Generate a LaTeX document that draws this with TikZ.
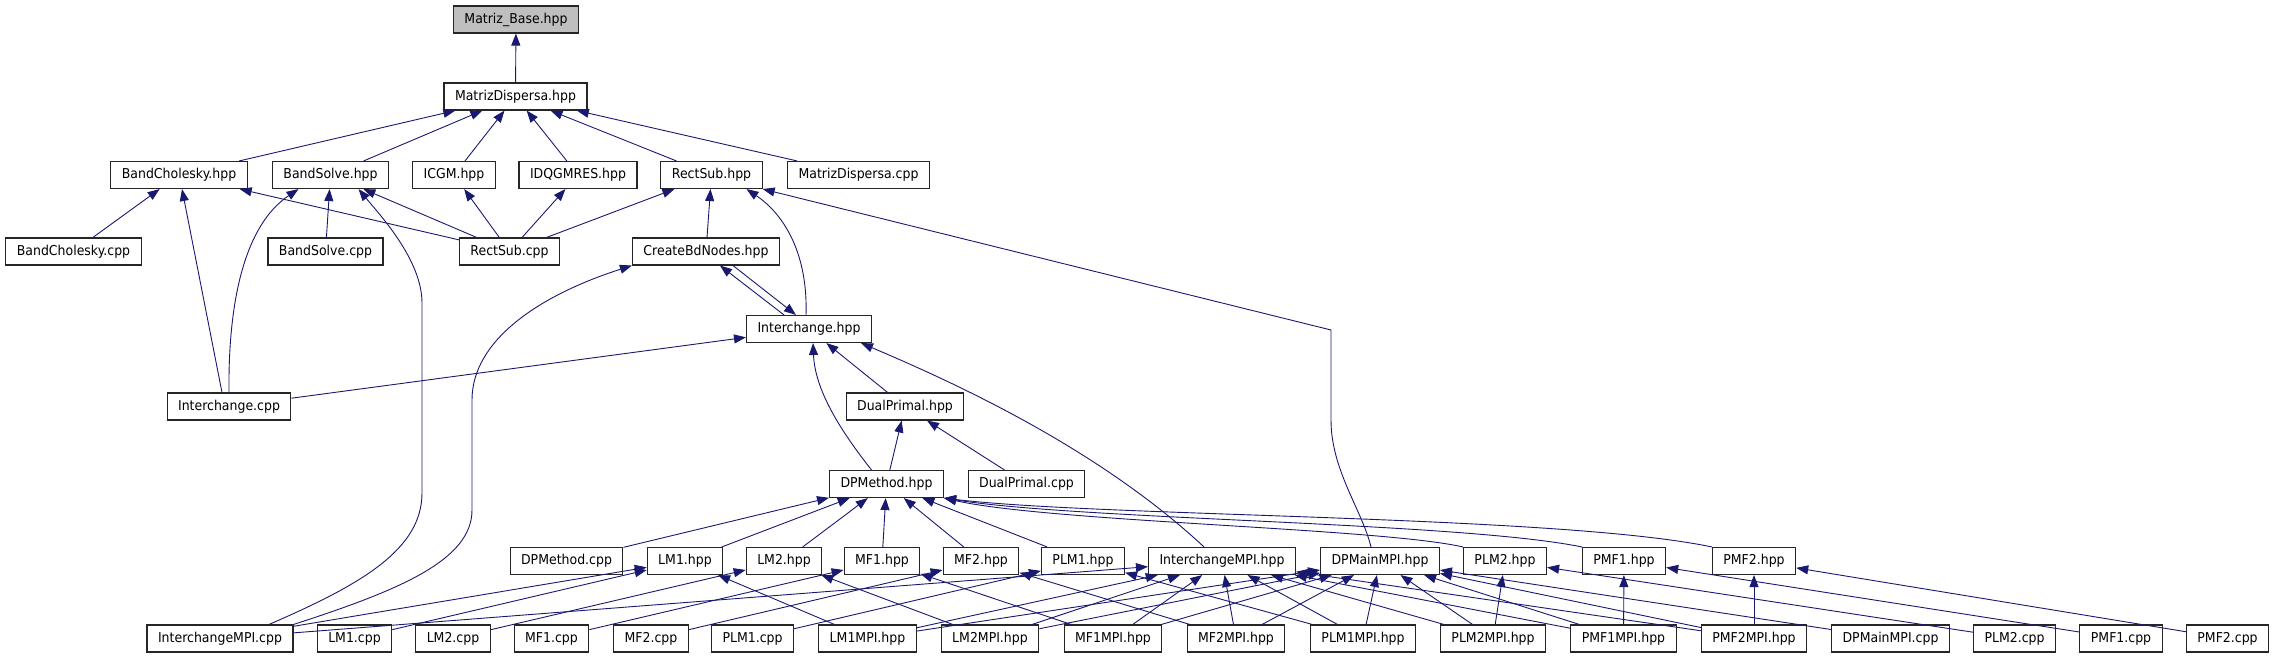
\documentclass[tikz,border=0pt]{standalone}
\usepackage{fontspec}
\setmainfont{DejaVu Sans}[FakeStretch=0.92]
\usetikzlibrary{arrows.meta}
\definecolor{dxblue}{HTML}{191970}
\definecolor{dxgray}{HTML}{BFBFBF}

\begin{document}
\begin{tikzpicture}[x=1pt,y=-1pt,
    block/.style={rectangle,draw=black!85,line width=1.1pt,fill=white,minimum height=27pt,inner xsep=11pt,inner ysep=0pt,font=\fontsize{13.6}{15}\selectfont},
    arrow/.style={->,>={Triangle[length=12pt,width=9pt]},draw=dxblue,line width=0.9pt}]
    \useasboundingbox (0,0) rectangle (2275,659);
    \node[block,fill=dxgray] (mbase) at (516,19.5) {Matriz\_Base.hpp};
    \node[block] (mdhpp) at (515.5,96.5) {MatrizDispersa.hpp};
    \node[block] (bchol) at (179,175) {BandCholesky.hpp};
    \node[block] (bsolve) at (330.5,175) {BandSolve.hpp};
    \node[block] (icgm) at (454,175) {ICGM.hpp};
    \node[block] (idq) at (578,175) {IDQGMRES.hpp};
    \node[block] (rsub) at (711.5,175) {RectSub.hpp};
    \node[block] (mdcpp) at (858.5,175) {MatrizDispersa.cpp};
    \node[block] (bcholcpp) at (73.5,251.5) {BandCholesky.cpp};
    \node[block] (bsolvecpp) at (325.5,251.5) {BandSolve.cpp};
    \node[block] (rsubcpp) at (509.5,251.5) {RectSub.cpp};
    \node[block] (cbdn) at (706,251.5) {CreateBdNodes.hpp};
    \node[block] (ichpp) at (809,329) {Interchange.hpp};
    \node[block] (iccpp) at (229,406.5) {Interchange.cpp};
    \node[block] (dphpp) at (905,406.5) {DualPrimal.hpp};
    \node[block] (dpmhpp) at (886.5,484) {DPMethod.hpp};
    \node[block] (dpcpp) at (1026.5,484) {DualPrimal.cpp};
    \node[block] (dpmcpp) at (566.5,561) {DPMethod.cpp};
    \node[block] (lm1h) at (685,561) {LM1.hpp};
    \node[block] (lm2h) at (784,561) {LM2.hpp};
    \node[block] (mf1h) at (882,561) {MF1.hpp};
    \node[block] (mf2h) at (981,561) {MF2.hpp};
    \node[block] (plm1h) at (1083,561) {PLM1.hpp};
    \node[block] (icmpih) at (1222,561) {InterchangeMPI.hpp};
    \node[block] (dpmmpih) at (1380,561) {DPMainMPI.hpp};
    \node[block] (plm2h) at (1505,561) {PLM2.hpp};
    \node[block] (pmf1h) at (1624,561) {PMF1.hpp};
    \node[block] (pmf2h) at (1754,561) {PMF2.hpp};
    \node[block] (icmpicpp) at (220,638.5) {InterchangeMPI.cpp};
    \node[block] (lm1c) at (354.5,638.5) {LM1.cpp};
    \node[block] (lm2c) at (453,638.5) {LM2.cpp};
    \node[block] (mf1c) at (551.5,638.5) {MF1.cpp};
    \node[block] (mf2c) at (651,638.5) {MF2.cpp};
    \node[block] (plm1c) at (752.5,638.5) {PLM1.cpp};
    \node[block] (lm1m) at (867.5,638.5) {LM1MPI.hpp};
    \node[block] (lm2m) at (990,638.5) {LM2MPI.hpp};
    \node[block] (mf1m) at (1113,638.5) {MF1MPI.hpp};
    \node[block] (mf2m) at (1236,638.5) {MF2MPI.hpp};
    \node[block] (plm1m) at (1363,638.5) {PLM1MPI.hpp};
    \node[block] (plm2m) at (1493,638.5) {PLM2MPI.hpp};
    \node[block] (pmf1m) at (1623.5,638.5) {PMF1MPI.hpp};
    \node[block] (pmf2m) at (1754,638.5) {PMF2MPI.hpp};
    \node[block] (dpmmpicpp) at (1890.5,638.5) {DPMainMPI.cpp};
    \node[block] (plm2c) at (2014.5,638.5) {PLM2.cpp};
    \node[block] (pmf1c) at (2121,638.5) {PMF1.cpp};
    \node[block] (pmf2c) at (2227.5,638.5) {PMF2.cpp};
    \draw[arrow] (mdhpp) -- (mbase);
    \draw[arrow] (bchol) -- (mdhpp);
    \draw[arrow] (bsolve) -- (mdhpp);
    \draw[arrow] (icgm) -- (mdhpp);
    \draw[arrow] (idq) -- (mdhpp);
    \draw[arrow] (rsub) -- (mdhpp);
    \draw[arrow] (mdcpp) -- (mdhpp);
    \draw[arrow] (bcholcpp) -- (bchol);
    \draw[arrow] ([xshift=-7pt]iccpp.north) -- ([xshift=3pt]bchol.south);
    \draw[arrow] (rsubcpp) -- (bchol);
    \draw[arrow] (iccpp.north) .. controls (228,300) and (245,225) .. ([xshift=-32pt]bsolve.south);
    \draw[arrow] (bsolvecpp) -- (bsolve);
    \draw[arrow] ([xshift=49pt]icmpicpp.north) .. controls (360,585) and (422,550) .. (422,493) -- (422,303) .. controls (422,260) and (380,215) .. ([xshift=28pt]bsolve.south);
    \draw[arrow] (rsubcpp) -- (bsolve);
    \draw[arrow] (rsubcpp) -- (icgm);
    \draw[arrow] (rsubcpp) -- (idq);
    \draw[arrow] (rsubcpp) -- (rsub);
    \draw[arrow] (cbdn) -- (rsub);
    \draw[arrow] ([xshift=-3pt]ichpp.north) .. controls (808,255) and (785,215) .. ([xshift=35pt]rsub.south);
    \draw[arrow] ([xshift=-9pt]dpmmpih.north) .. controls (1362,510) and (1331,470) .. (1331,420) -- (1331,330) -- (rsub.south east);
    \draw[arrow] (icmpicpp.north east) .. controls (400,590) and (472,560) .. (472,510) -- (472,400) .. controls (472,340) and (540,295) .. (cbdn.south west);
    \draw[arrow] ([xshift=-25pt]ichpp.north) -- ([xshift=14pt]cbdn.south);
    \draw[arrow] ([xshift=27pt]cbdn.south) -- ([xshift=-13pt]ichpp.north);
    \draw[arrow] (iccpp) -- (ichpp);
    \draw[arrow] (dphpp) -- (ichpp);
    \draw[arrow] ([xshift=-15pt]dpmhpp.north) .. controls (840,430) and (815,390) .. ([xshift=4pt]ichpp.south);
    \draw[arrow] ([xshift=-18pt]icmpih.north) .. controls (1100,450) and (960,385) .. ([xshift=52pt]ichpp.south);
    \draw[arrow] (dpmhpp) -- (dphpp);
    \draw[arrow] (dpcpp) -- (dphpp);
    \draw[arrow] (dpmcpp) -- (dpmhpp);
    \draw[arrow] (lm1h) -- (dpmhpp);
    \draw[arrow] (lm2h) -- (dpmhpp);
    \draw[arrow] (mf1h) -- (dpmhpp);
    \draw[arrow] (mf2h) -- (dpmhpp);
    \draw[arrow] (plm1h) -- (dpmhpp);
    \draw[arrow] (plm2h.north west) .. controls (1380,528) and (1050,522) .. (dpmhpp.south east);
    \draw[arrow] (pmf1h.north west) .. controls (1460,522) and (1080,520) .. (dpmhpp.south east);
    \draw[arrow] (pmf2h.north west) .. controls (1560,515) and (1100,517) .. (dpmhpp.south east);
    \draw[arrow] (icmpicpp) -- (lm1h);
    \draw[arrow] (icmpicpp) -- (icmpih);
    \draw[arrow] (lm1c) -- (lm1h);
    \draw[arrow] (lm2c) -- (lm2h);
    \draw[arrow] (mf1c) -- (mf1h);
    \draw[arrow] (mf2c) -- (mf2h);
    \draw[arrow] (plm1c) -- (plm1h);
    \draw[arrow] (plm2c) -- (plm2h);
    \draw[arrow] (pmf1c) -- (pmf1h);
    \draw[arrow] (pmf2c) -- (pmf2h);
    \draw[arrow] (lm1m) -- (lm1h);
    \draw[arrow] (lm1m) -- (icmpih);
    \draw[arrow] (lm1m) -- (dpmmpih);
    \draw[arrow] (lm2m) -- (lm2h);
    \draw[arrow] (lm2m) -- (icmpih);
    \draw[arrow] (lm2m) -- (dpmmpih);
    \draw[arrow] (mf1m) -- (mf1h);
    \draw[arrow] (mf1m) -- (icmpih);
    \draw[arrow] (mf1m) -- (dpmmpih);
    \draw[arrow] (mf2m) -- (mf2h);
    \draw[arrow] (mf2m) -- (icmpih);
    \draw[arrow] (mf2m) -- (dpmmpih);
    \draw[arrow] (plm1m) -- (plm1h);
    \draw[arrow] (plm1m) -- (icmpih);
    \draw[arrow] (plm1m) -- (dpmmpih);
    \draw[arrow] (plm2m) -- (plm2h);
    \draw[arrow] (plm2m) -- (icmpih);
    \draw[arrow] (plm2m) -- (dpmmpih);
    \draw[arrow] (pmf1m) -- (pmf1h);
    \draw[arrow] (pmf1m) -- (icmpih);
    \draw[arrow] (pmf1m) -- (dpmmpih);
    \draw[arrow] (pmf2m) -- (pmf2h);
    \draw[arrow] (pmf2m) -- (icmpih);
    \draw[arrow] (pmf2m) -- (dpmmpih);
    \draw[arrow] (dpmmpicpp) -- (dpmmpih);
\end{tikzpicture}
\end{document}
